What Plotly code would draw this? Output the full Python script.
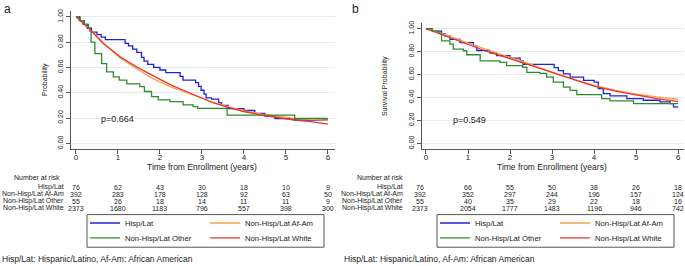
import plotly.graph_objects as go

W, H = 685, 266
FONT = "Liberation Sans, Arial, sans-serif"

def fx(p):
    return p / W

def fy(p):
    return 1 - p / H

# ---------------- data ----------------
groups = ["Hisp/Lat", "Non-Hisp/Lat Af-Am", "Non-Hisp/Lat Other", "Non-Hisp/Lat White"]
colors = {"Hisp/Lat": "#2121d1", "Non-Hisp/Lat Af-Am": "#f5a24a",
          "Non-Hisp/Lat Other": "#2e8b2e", "Non-Hisp/Lat White": "#e8332b"}
risk_times = [0, 1, 2, 3, 4, 5, 6]

# Panel a
a_hisp_t = [0, 0.08, 0.17, 0.27, 0.37, 0.5, 0.6, 0.7, 1.17, 1.25, 1.35, 1.45, 1.56, 1.62, 1.71, 1.85, 2.0, 2.14,
            2.48, 2.55, 2.85, 2.92, 2.98, 3.05, 3.1, 3.23, 3.4, 3.47, 3.62, 4.0, 4.26, 4.5, 4.74, 5.2, 6.0]
a_hisp_s = [1.0, 0.97, 0.94, 0.91, 0.88, 0.86, 0.84, 0.82, 0.79, 0.77, 0.745, 0.72, 0.68, 0.65, 0.625, 0.60, 0.58, 0.56,
            0.53, 0.50, 0.48, 0.45, 0.42, 0.39, 0.36, 0.35, 0.32, 0.30, 0.275, 0.26, 0.237, 0.215, 0.195, 0.185, 0.185]
a_afam_t = [0, 0.33, 0.65, 1.05, 1.44, 1.84, 2.24, 2.63, 3.03, 3.3, 3.62, 4.02, 4.42, 4.82, 5.2, 5.6, 6.0]
a_afam_s = [1.0, 0.905, 0.795, 0.675, 0.59, 0.51, 0.448, 0.40, 0.35, 0.322, 0.29, 0.256, 0.232, 0.212, 0.197, 0.189, 0.182]
a_other_t = [0, 0.1, 0.2, 0.3, 0.33, 0.36, 0.45, 0.61, 0.73, 0.89, 1.03, 1.21, 1.52, 1.63, 1.8, 1.96, 2.24, 2.55,
             2.79, 2.9, 3.6, 5.21, 6.0]
a_other_s = [1.0, 0.97, 0.94, 0.91, 0.89, 0.80, 0.71, 0.63, 0.565, 0.526, 0.50, 0.47, 0.448, 0.41, 0.37, 0.344, 0.33,
             0.305, 0.29, 0.276, 0.224, 0.198, 0.198]
a_white_t = [0, 0.33, 0.65, 1.05, 1.44, 1.84, 2.24, 2.63, 3.03, 3.23, 3.62, 4.02, 4.42, 4.82, 5.2, 5.6, 6.0]
a_white_s = [1.0, 0.90, 0.79, 0.685, 0.605, 0.535, 0.465, 0.41, 0.357, 0.325, 0.284, 0.25, 0.224, 0.203, 0.185, 0.172, 0.153]

a_risk = {
    "Hisp/Lat": [76, 62, 43, 30, 18, 10, 9],
    "Non-Hisp/Lat Af-Am": [392, 283, 178, 128, 92, 63, 50],
    "Non-Hisp/Lat Other": [55, 26, 18, 14, 11, 11, 9],
    "Non-Hisp/Lat White": [2373, 1680, 1183, 796, 557, 398, 300],
}

# Panel b
b_hisp_t = [0, 0.15, 0.37, 0.45, 0.57, 0.81, 1.13, 1.21, 1.52, 1.68, 2.0, 2.24, 2.31, 3.05, 3.15, 3.27, 3.43, 3.75,
            4.0, 4.1, 4.22, 4.38, 4.78, 5.17, 5.57, 5.81, 5.89, 6.0]
b_hisp_s = [1.0, 0.98, 0.957, 0.937, 0.908, 0.879, 0.85, 0.81, 0.79, 0.765, 0.744, 0.72, 0.69, 0.66, 0.635, 0.606,
            0.578, 0.55, 0.534, 0.477, 0.434, 0.414, 0.39, 0.376, 0.362, 0.347, 0.319, 0.319]
b_afam_t = [0, 0.5, 1.0, 1.5, 2.0, 2.5, 3.0, 3.5, 4.0, 4.5, 5.0, 5.5, 6.0]
b_afam_s = [1.0, 0.945, 0.875, 0.81, 0.75, 0.69, 0.62, 0.56, 0.505, 0.465, 0.43, 0.405, 0.385]
b_other_t = [0, 0.15, 0.3, 0.37, 0.57, 0.65, 0.89, 0.97, 1.29, 1.76, 1.92, 2.3, 2.4, 2.71, 2.87, 3.03, 3.27, 3.43,
             3.59, 4.18, 4.38, 4.94, 6.0]
b_other_s = [1.0, 0.98, 0.96, 0.894, 0.865, 0.822, 0.808, 0.773, 0.72, 0.707, 0.678, 0.664, 0.62, 0.61, 0.578, 0.534,
             0.49, 0.463, 0.425, 0.39, 0.37, 0.347, 0.347]
b_white_t = [0, 0.5, 1.0, 1.5, 2.0, 2.5, 3.0, 3.5, 4.0, 4.5, 5.0, 5.5, 6.0]
b_white_s = [1.0, 0.93, 0.86, 0.795, 0.74, 0.68, 0.615, 0.555, 0.5, 0.455, 0.42, 0.39, 0.365]

b_risk = {
    "Hisp/Lat": [76, 66, 55, 50, 38, 26, 18],
    "Non-Hisp/Lat Af-Am": [392, 352, 297, 244, 196, 157, 124],
    "Non-Hisp/Lat Other": [55, 40, 35, 29, 22, 18, 16],
    "Non-Hisp/Lat White": [2373, 2054, 1777, 1483, 1196, 946, 742],
}

a_pvalue = "p=0.664"
b_pvalue = "p=0.549"
y_ticks = [0, 0.2, 0.4, 0.6, 0.8, 1.0]
y_ticktext = ["0.00", "0.20", "0.40", "0.60", "0.80", "1.00"]
footnote = "Hisp/Lat: Hispanic/Latino, Af-Am: African American"

# ---------------- figure ----------------
fig = go.Figure()

panels = [
    dict(xa="x", ya="y", legs=("legend", "legend2"),
         series=[("Hisp/Lat", a_hisp_t, a_hisp_s, "hv"), ("Non-Hisp/Lat Af-Am", a_afam_t, a_afam_s, "linear"),
                 ("Non-Hisp/Lat Other", a_other_t, a_other_s, "hv"), ("Non-Hisp/Lat White", a_white_t, a_white_s, "linear")]),
    dict(xa="x2", ya="y2", legs=("legend3", "legend4"),
         series=[("Hisp/Lat", b_hisp_t, b_hisp_s, "hv"), ("Non-Hisp/Lat Af-Am", b_afam_t, b_afam_s, "linear"),
                 ("Non-Hisp/Lat Other", b_other_t, b_other_s, "hv"), ("Non-Hisp/Lat White", b_white_t, b_white_s, "linear")]),
]

for p in panels:
    for i, (name, t, s, shape) in enumerate(p["series"]):
        fig.add_trace(go.Scatter(
            x=t, y=s, mode="lines", name=name,
            line=dict(color=colors[name], width=1.3, shape=shape),
            xaxis=p["xa"], yaxis=p["ya"], legend=p["legs"][0] if i < 2 else p["legs"][1],
            hoverinfo="skip"))

axis_common = dict(showline=True, linecolor="#555", linewidth=1, ticks="outside", ticklen=4,
                   tickcolor="#555", tickfont=dict(family=FONT, size=8, color="#222"),
                   zeroline=False, showgrid=False)
xaxis_extra = {"ticklabelstandoff": -4}
yaxis_extra = {"showgrid": True, "gridcolor": "#e4ecf2", "tickfont": dict(family=FONT, size=7, color="#222")}

fig.update_layout(
    width=W, height=H, margin=dict(l=0, r=0, t=0, b=0),
    paper_bgcolor="white", plot_bgcolor="white",
    font=dict(family=FONT, color="#222"),
    xaxis=dict(domain=[fx(70.7), fx(335)], range=[-0.126, 6.17], tickvals=risk_times, anchor="y",
               **{**axis_common, **xaxis_extra}),
    yaxis=dict(domain=[fy(148), fy(8)], range=[-0.047, 1.047], tickvals=y_ticks, ticktext=y_ticktext,
               tickangle=-90, anchor="x", **{**axis_common, **yaxis_extra}),
    xaxis2=dict(domain=[fx(421.7), fx(684)], range=[-0.102, 6.14], tickvals=risk_times, anchor="y2",
                **{**axis_common, **xaxis_extra}),
    yaxis2=dict(domain=[fy(148), fy(20.7)], range=[-0.052, 1.046], tickvals=y_ticks, ticktext=y_ticktext,
                tickangle=-90, anchor="x2", **{**axis_common, **yaxis_extra}),
)

leg_common = dict(orientation="h", entrywidth=75, entrywidthmode="pixels", itemwidth=30,
                  font=dict(family=FONT, size=7.7, color="#222"), bgcolor="rgba(0,0,0,0)",
                  borderwidth=0, xanchor="left", yanchor="middle", itemclick=False, itemdoubleclick=False)
fig.update_layout(
    legend=dict(x=fx(85), y=fy(222.5), **leg_common),
    legend2=dict(x=fx(85), y=fy(237.5), **leg_common),
    legend3=dict(x=fx(435), y=fy(222.5), **leg_common),
    legend4=dict(x=fx(435), y=fy(237.5), **leg_common),
)

# legend boxes
for x0, x1 in [(87, 324), (437, 674)]:
    fig.add_shape(type="rect", xref="paper", yref="paper", x0=fx(x0), x1=fx(x1), y0=fy(247), y1=fy(214),
                  line=dict(color="#555", width=1), fillcolor="rgba(0,0,0,0)")

ann = []
def text(x, y, s, size=8, xref="paper", xanchor="center", angle=0, xshift=0):
    ann.append(dict(x=x, y=y, xref=xref, yref="paper", text=s, showarrow=False, xanchor=xanchor,
                    yanchor="middle", textangle=angle, xshift=xshift,
                    font=dict(family=FONT, size=size, color="#222")))

# panel letters
text(fx(2), fy(6), "a", size=12, xanchor="left")
text(fx(350), fy(6), "b", size=12, xanchor="left")
# axis titles
text(fx(45), fy(78), "Probability", size=7, angle=-90)
text(fx(385), fy(84), "Survival Probability", size=7, angle=-90)
text(3, fy(165.5), "Time from Enrollment (years)", size=8.5, xref="x")
text(3, fy(165.5), "Time from Enrollment (years)", size=8.5, xref="x2")
# p-values
ann.append(dict(x=1.0, y=0.19, xref="x", yref="y", text=a_pvalue, showarrow=False,
                font=dict(family=FONT, size=9, color="#222")))
ann.append(dict(x=1.04, y=0.2, xref="x2", yref="y2", text=b_pvalue, showarrow=False,
                font=dict(family=FONT, size=9, color="#222")))

# risk tables
row_y = [186.5, 193.5, 200.5, 207.5]
for xr, risk, lab_right, nar_right, first_shift in [("x", a_risk, 66, 62, 0), ("x2", b_risk, 405, 405, -6)]:
    text(fx(nar_right), fy(176), "Number at risk", size=7, xanchor="right")
    for g, yy in zip(groups, row_y):
        text(fx(lab_right), fy(yy), g, size=7, xanchor="right")
        for t, n in zip(risk_times, risk[g]):
            text(t, fy(yy), str(n), size=7, xref=xr, xshift=first_shift if t == 0 else 0)

# footnotes
text(fx(0), fy(259), footnote, size=8.5, xanchor="left")
text(fx(342), fy(259), footnote, size=8.5, xanchor="left")

fig.update_layout(annotations=ann)
fig.write_html("out.html", post_script="document.body.style.margin='0px';",
               config={"displayModeBar": False})
